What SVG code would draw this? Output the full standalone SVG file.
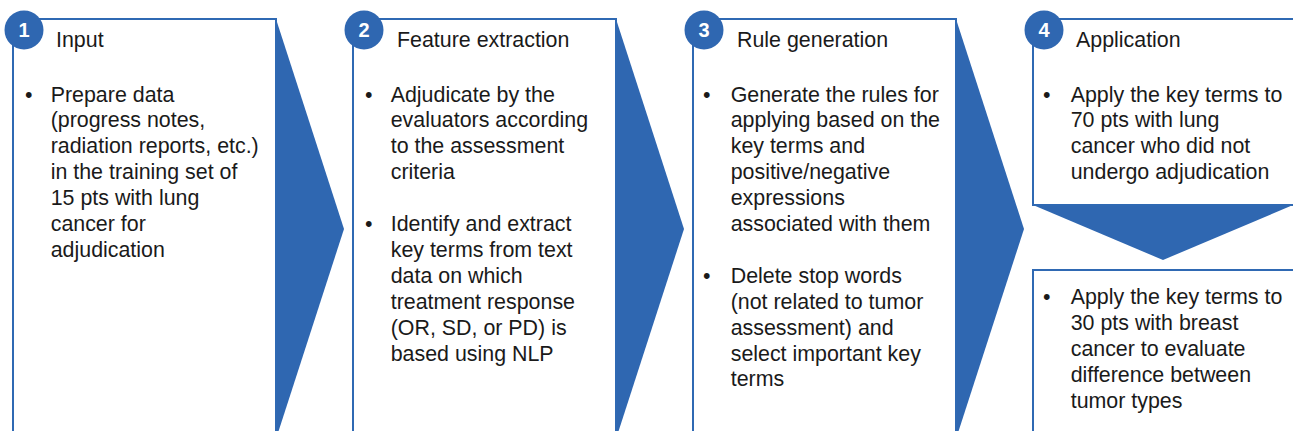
<svg xmlns="http://www.w3.org/2000/svg" width="1293" height="431" viewBox="0 0 1293 431">
  <style>
    .box { fill: #ffffff; stroke: #2f69b3; stroke-width: 2; }
    .chev { fill: #2f67b1; }
    .badge { fill: #2f67b1; }
    .num { font-family: "Liberation Sans", Arial, sans-serif; font-size: 20px; font-weight: bold; fill: #ffffff; text-anchor: middle; }
    .title { font-family: "Liberation Sans", Arial, sans-serif; font-size: 21.4px; fill: #1a1a1a; }
    .body { font-family: "Liberation Sans", Arial, sans-serif; font-size: 21.4px; fill: #1a1a1a; }
  </style>

  <rect width="1293" height="431" fill="#ffffff"/>

  <!-- chevron connectors between steps -->
  <g id="connectors">
    <polygon class="chev" points="276,19 344,229 276,439"/>
    <polygon class="chev" points="616,19 684,229 616,439"/>
    <polygon class="chev" points="956,19 1024,229 956,439"/>
    <polygon class="chev" points="1033,205 1293,205 1163,260"/>
  </g>

  <!-- step 1 -->
  <g id="step1">
    <rect class="box" x="13" y="19" width="263" height="425"/>
    <circle class="badge" cx="24" cy="30" r="19.5"/>
    <text class="num" x="24" y="37">1</text>
    <text class="title" x="56" y="47">Input</text>
    <g class="body">
      <text x="25" y="101.5">•</text>
      <text x="50.7" y="101.5">Prepare data</text>
      <text x="50.7" y="127.4">(progress notes,</text>
      <text x="50.7" y="153.3">radiation reports, etc.)</text>
      <text x="50.7" y="179.2">in the training set of</text>
      <text x="50.7" y="205.1">15 pts with lung</text>
      <text x="50.7" y="231">cancer for</text>
      <text x="50.7" y="256.9">adjudication</text>
    </g>
  </g>

  <!-- step 2 -->
  <g id="step2">
    <rect class="box" x="353" y="19" width="263" height="425"/>
    <circle class="badge" cx="364" cy="30" r="19.5"/>
    <text class="num" x="364" y="37">2</text>
    <text class="title" x="397" y="47">Feature extraction</text>
    <g class="body">
      <text x="365" y="101.5">•</text>
      <text x="390.7" y="101.5">Adjudicate by the</text>
      <text x="390.7" y="127.4">evaluators according</text>
      <text x="390.7" y="153.3">to the assessment</text>
      <text x="390.7" y="179.2">criteria</text>
      <text x="365" y="231">•</text>
      <text x="390.7" y="231">Identify and extract</text>
      <text x="390.7" y="256.9">key terms from text</text>
      <text x="390.7" y="282.8">data on which</text>
      <text x="390.7" y="308.7">treatment response</text>
      <text x="390.7" y="334.6">(OR, SD, or PD) is</text>
      <text x="390.7" y="360.5">based using NLP</text>
    </g>
  </g>

  <!-- step 3 -->
  <g id="step3">
    <rect class="box" x="693" y="19" width="263" height="425"/>
    <circle class="badge" cx="704" cy="30" r="19.5"/>
    <text class="num" x="704" y="37">3</text>
    <text class="title" x="737" y="47">Rule generation</text>
    <g class="body">
      <text x="703" y="101.5">•</text>
      <text x="730.7" y="101.5">Generate the rules for</text>
      <text x="730.7" y="127.4">applying based on the</text>
      <text x="730.7" y="153.3">key terms and</text>
      <text x="730.7" y="179.2">positive/negative</text>
      <text x="730.7" y="205.1">expressions</text>
      <text x="730.7" y="231">associated with them</text>
      <text x="703" y="282.8">•</text>
      <text x="730.7" y="282.8">Delete stop words</text>
      <text x="730.7" y="308.7">(not related to tumor</text>
      <text x="730.7" y="334.6">assessment) and</text>
      <text x="730.7" y="360.5">select important key</text>
      <text x="730.7" y="386.4">terms</text>
    </g>
  </g>

  <!-- step 4, upper part -->
  <g id="step4">
    <rect class="box" x="1033" y="19" width="270" height="186"/>
    <circle class="badge" cx="1044" cy="30" r="19.5"/>
    <text class="num" x="1044" y="37">4</text>
    <text class="title" x="1076" y="47">Application</text>
    <g class="body">
      <text x="1043" y="101.5">•</text>
      <text x="1070.7" y="101.5">Apply the key terms to</text>
      <text x="1070.7" y="127.4">70 pts with lung</text>
      <text x="1070.7" y="153.3">cancer who did not</text>
      <text x="1070.7" y="179.2">undergo adjudication</text>
    </g>
  </g>

  <!-- step 4, lower part -->
  <g id="step4b">
    <rect class="box" x="1033" y="270" width="270" height="174"/>
    <g class="body">
      <text x="1043" y="304">•</text>
      <text x="1070.7" y="304">Apply the key terms to</text>
      <text x="1070.7" y="329.9">30 pts with breast</text>
      <text x="1070.7" y="355.8">cancer to evaluate</text>
      <text x="1070.7" y="381.7">difference between</text>
      <text x="1070.7" y="407.6">tumor types</text>
    </g>
  </g>
</svg>
